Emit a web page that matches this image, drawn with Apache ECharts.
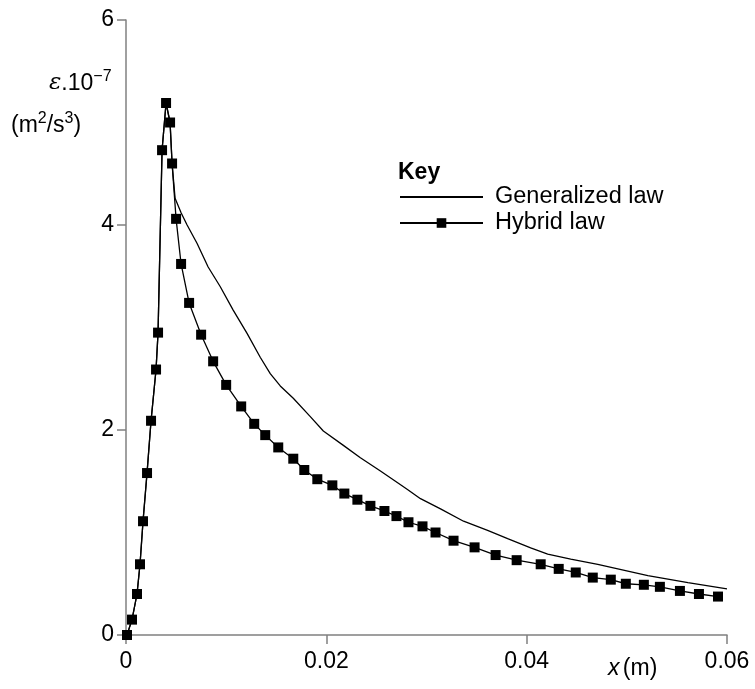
<!DOCTYPE html>
<html>
<head>
<meta charset="utf-8">
<script src="https://cdn.jsdelivr.net/npm/echarts@6/dist/echarts.min.js"></script>
<style>html,body{margin:0;padding:0;background:#fff}#c{width:755px;height:689px}</style>
</head>
<body>
<div id="c"></div>
<script>
// Hybrid law (markers)
const hybridX = [0.0001, 0.0006, 0.0011, 0.0014, 0.0017, 0.0021, 0.0025, 0.0030, 0.0032, 0.0036, 0.0040, 0.0044, 0.0046, 0.0050, 0.0055, 0.0063, 0.0075, 0.0087, 0.0100, 0.0115, 0.0128, 0.0139, 0.0152, 0.0167, 0.0178, 0.0191, 0.0206, 0.0218, 0.0231, 0.0244, 0.0258, 0.0270, 0.0282, 0.0296, 0.0309, 0.0327, 0.0348, 0.0369, 0.0390, 0.0414, 0.0432, 0.0449, 0.0466, 0.0484, 0.0499, 0.0517, 0.0533, 0.0553, 0.0572, 0.0591];
const hybridY = [0.0, 0.15, 0.40, 0.69, 1.11, 1.58, 2.09, 2.59, 2.95, 4.73, 5.19, 5.00, 4.60, 4.06, 3.62, 3.24, 2.93, 2.67, 2.44, 2.23, 2.06, 1.95, 1.83, 1.72, 1.61, 1.52, 1.46, 1.38, 1.32, 1.26, 1.21, 1.16, 1.10, 1.06, 1.00, 0.92, 0.855, 0.78, 0.73, 0.69, 0.645, 0.61, 0.56, 0.54, 0.50, 0.49, 0.47, 0.43, 0.40, 0.375];
// Generalized law (plain line)
const genX = [0.0001, 0.0006, 0.0011, 0.0014, 0.0017, 0.0021, 0.0025, 0.0030, 0.0032, 0.0036, 0.0040, 0.0044, 0.0046, 0.0049, 0.0055, 0.0061, 0.0071, 0.0082, 0.0094, 0.0107, 0.0121, 0.0134, 0.0144, 0.0154, 0.0167, 0.0184, 0.0197, 0.0217, 0.0234, 0.0254, 0.0269, 0.0281, 0.0294, 0.0314, 0.0337, 0.0361, 0.0381, 0.0404, 0.0421, 0.0444, 0.0471, 0.0521, 0.0561, 0.0600];
const genY = [0.0, 0.15, 0.40, 0.69, 1.11, 1.58, 2.09, 2.59, 2.95, 4.73, 5.19, 5.00, 4.60, 4.26, 4.12, 4.00, 3.82, 3.59, 3.40, 3.17, 2.94, 2.71, 2.55, 2.43, 2.31, 2.13, 1.99, 1.85, 1.73, 1.60, 1.50, 1.42, 1.33, 1.23, 1.11, 1.02, 0.94, 0.85, 0.79, 0.74, 0.69, 0.58, 0.51, 0.45];
const xTicks = {min: 0, max: 0.06, interval: 0.02};
const yTicks = {min: 0, max: 6, interval: 2};
const seriesNames = ['Generalized law', 'Hybrid law'];

const FONT = '"Liberation Sans", Arial, sans-serif';
const axisGray = '#808080';
const pair = (xs, ys) => xs.map((x, i) => [x, ys[i]]);

const chart = echarts.init(document.getElementById('c'));
chart.setOption({
  animation: false,
  backgroundColor: '#fff',
  grid: {left: 126, right: 28, top: 20, bottom: 54, containLabel: false},
  title: {
    text: 'Key', left: 393, top: 156,
    textStyle: {fontFamily: FONT, fontWeight: 'bold', fontSize: 23, color: '#000'}
  },
  legend: {
    orient: 'vertical', left: 394, top: 180,
    itemWidth: 83, itemHeight: 12, itemGap: 2,
    data: [{name: seriesNames[0], itemStyle: {opacity: 0}}, {name: seriesNames[1]}],
    textStyle: {fontFamily: FONT, fontSize: 23.5, color: '#000', lineHeight: 24, padding: [0, 0, 0, 7]}
  },
  xAxis: {
    type: 'value', min: xTicks.min, max: xTicks.max, interval: xTicks.interval,
    axisLine: {show: true, onZero: false, lineStyle: {color: axisGray, width: 1.5}},
    axisTick: {show: true, inside: false, length: 9, lineStyle: {color: axisGray, width: 1.5}},
    splitLine: {show: false},
    axisLabel: {margin: 15, fontFamily: FONT, fontSize: 23, color: '#000',
      formatter: v => v === 0 ? '0' : v.toFixed(2)}
  },
  yAxis: {
    type: 'value', min: yTicks.min, max: yTicks.max, interval: yTicks.interval,
    axisLine: {show: true, onZero: false, lineStyle: {color: axisGray, width: 1.5}},
    axisTick: {show: true, inside: false, length: 9, lineStyle: {color: axisGray, width: 1.5}},
    splitLine: {show: false},
    axisLabel: {margin: 12, fontFamily: FONT, fontSize: 23, color: '#000'}
  },
  graphic: [
    {type: 'text', left: 49, top: 69, style: {
      text: '{e|ε}{n|.10}{s|−7}', rich: {
        e: {fontFamily: '"DejaVu Serif", serif', fontStyle: 'italic', fontSize: 23, fill: '#000', verticalAlign: 'bottom'},
        n: {fontFamily: FONT, fontSize: 23, fill: '#000', verticalAlign: 'bottom'},
        s: {fontFamily: FONT, fontSize: 16, fill: '#000', verticalAlign: 'top', padding: [0, 0, 10, 0]}
      }}},
    {type: 'text', left: 11, top: 111, style: {
      text: '{n|(m}{s|2}{n|/s}{s|3}{n|)}', rich: {
        n: {fontFamily: FONT, fontSize: 23, fill: '#000', verticalAlign: 'bottom'},
        s: {fontFamily: FONT, fontSize: 16, fill: '#000', verticalAlign: 'top', padding: [0, 0, 10, 0]}
      }}},
    {type: 'text', left: 608, top: 657, style: {
      text: '{i|x} {n|(m)}', rich: {
        i: {fontFamily: FONT, fontStyle: 'italic', fontSize: 23, fill: '#000'},
        n: {fontFamily: FONT, fontSize: 23, fill: '#000'}
      }}}
  ],
  series: [
    {
      name: seriesNames[0], type: 'line', data: pair(genX, genY),
      symbol: 'none', smooth: false,
      lineStyle: {color: '#000', width: 1.3},
      itemStyle: {color: '#000'}
    },
    {
      name: seriesNames[1], type: 'line', data: pair(hybridX, hybridY),
      symbol: 'rect', symbolSize: 10, showSymbol: true,
      lineStyle: {color: '#000', width: 1.3},
      itemStyle: {color: '#000'}
    }
  ]
});
</script>
</body>
</html>
